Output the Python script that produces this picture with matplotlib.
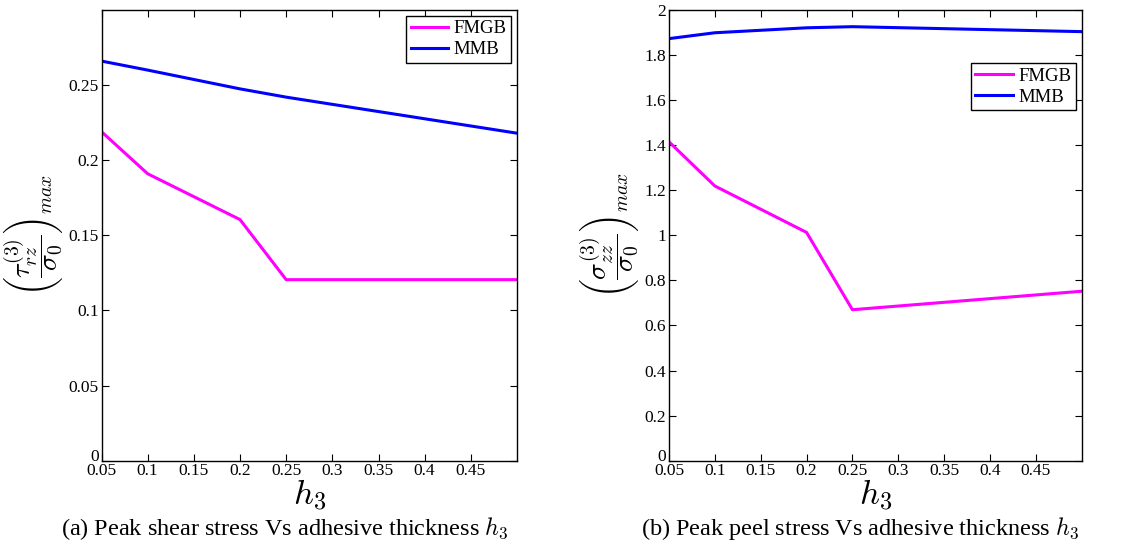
import numpy as np
import matplotlib
matplotlib.use('Agg')
import matplotlib.pyplot as plt
import matplotlib.transforms as mtransforms

plt.rcParams['font.family'] = ['Liberation Serif', 'DejaVu Serif']
plt.rcParams['mathtext.fontset'] = 'cm'

# data
h3 = [0.05, 0.1, 0.2, 0.25, 0.5]
shear_fmgb = [0.219, 0.191, 0.1605, 0.1205, 0.1205]
shear_mmb = [0.266, 0.260, 0.2475, 0.242, 0.218]
peel_fmgb = [1.415, 1.219, 1.013, 0.670, 0.752]
peel_mmb = [1.873, 1.899, 1.921, 1.926, 1.904]

xticks = [0.05, 0.1, 0.15, 0.2, 0.25, 0.3, 0.35, 0.4, 0.45]
xticklabels = ['0.05', '0.1', '0.15', '0.2', '0.25', '0.3', '0.35', '0.4', '0.45']
shear_yticks = [0, 0.05, 0.1, 0.15, 0.2, 0.25]
shear_yticklabels = ['0', '0.05', '0.1', '0.15', '0.2', '0.25']
peel_yticks = [0, 0.2, 0.4, 0.6, 0.8, 1.0, 1.2, 1.4, 1.6, 1.8, 2.0]
peel_yticklabels = ['0', '0.2', '0.4', '0.6', '0.8', '1', '1.2', '1.4', '1.6', '1.8', '2']

W, H = 1123, 550
fig = plt.figure(figsize=(W / 100, H / 100), dpi=100)

def box(x0, y0, x1, y1):
    return [x0 / W, 1 - y1 / H, (x1 - x0) / W, (y1 - y0) / H]

ax1 = fig.add_axes(box(101.5, 10, 517, 460.7))
ax2 = fig.add_axes(box(669, 10, 1081.7, 460.7))

panels = [
    (ax1, shear_fmgb, shear_mmb, (0, 0.3), shear_yticks, shear_yticklabels,
     r'$\left(\dfrac{\tau_{rz}^{(3)}}{\sigma_0}\right)_{max}$', None),
    (ax2, peel_fmgb, peel_mmb, (0, 2.0), peel_yticks, peel_yticklabels,
     r'$\left(\dfrac{\sigma_{zz}^{(3)}}{\sigma_0}\right)_{max}$', (1.0, 0.895)),
]

for ax, fm, mm, ylim, yt, ytl, ylab, anchor in panels:
    ax.plot(h3, fm, color=(1, 0, 1), lw=2.2, label='FMGB')
    ax.plot(h3, mm, color=(0, 0, 1), lw=2.2, label='MMB')
    ax.set_xlim(0.05, 0.5)
    ax.set_ylim(*ylim)
    ax.set_xticks(xticks)
    ax.set_xticklabels(xticklabels)
    ax.set_yticks(yt)
    ax.set_yticklabels(ytl)
    ax.tick_params(direction='in', top=True, right=True, length=5, width=0.8,
                   labelsize=12.5, pad=2)
    # lift the "0" label a little so it sits above the first x label
    lab0 = ax.get_yticklabels()[0]
    lab0.set_transform(lab0.get_transform() +
                       mtransforms.ScaledTranslation(0, 4 / 72, fig.dpi_scale_trans))
    for s in ax.spines.values():
        s.set_linewidth(1.0)
    ax.set_xlabel(r'$h_3$', fontsize=25, labelpad=-2)
    ax.set_ylabel(ylab, fontsize=20, labelpad=2)
    leg = ax.legend(loc='upper right', bbox_to_anchor=anchor, fontsize=13.5,
                    fancybox=False, edgecolor='black', framealpha=1,
                    handlelength=2.0, handletextpad=0.3, borderpad=0.25,
                    labelspacing=0.2, borderaxespad=0.3)
    leg.get_frame().set_linewidth(1.0)

fig.text(285 / W, 1 - 529 / H, r'(a) Peak shear stress Vs adhesive thickness $\mathit{h}_3$',
         ha='center', va='center', fontsize=17.5)
fig.text(860 / W, 1 - 529 / H, r'(b) Peak peel stress Vs adhesive thickness $\mathit{h}_3$',
         ha='center', va='center', fontsize=17.5)

fig.savefig('out.png', dpi=100)
